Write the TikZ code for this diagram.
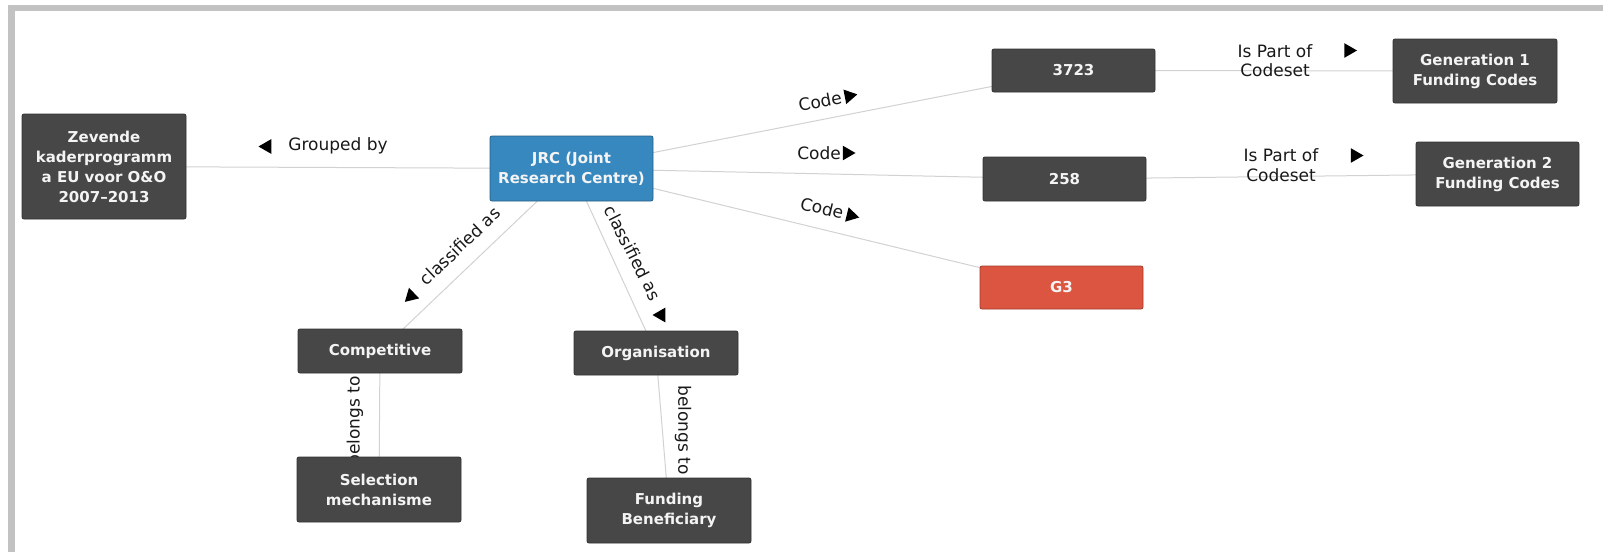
\documentclass[tikz,border=0pt]{standalone}
\usepackage{fontspec}
\setmainfont{DejaVu Sans}
\usetikzlibrary{shapes.geometric}
\pgfdeclarelayer{back}
\pgfdeclarelayer{bg}
\pgfsetlayers{back,bg,main}
\definecolor{nodegray}{HTML}{474747}
\definecolor{nodeborder}{HTML}{333333}
\definecolor{jrcblue}{HTML}{3788BF}
\definecolor{jrcborder}{HTML}{2A5F86}
\definecolor{g3red}{HTML}{DB5540}
\definecolor{g3border}{HTML}{A33C2C}
\definecolor{edgegray}{HTML}{D2D2D2}
\definecolor{framegray}{HTML}{C2C2C2}
\definecolor{boxtext}{HTML}{F4F4F4}
\begin{document}
\begin{tikzpicture}[x=1pt,y=-1pt,
  box/.style={draw=nodeborder, fill=nodegray, rounded corners=2pt, text=boxtext,
    font=\bfseries\fontsize{15}{20}\selectfont, align=center, inner sep=0pt, line width=0.8pt},
  wire/.style={draw=edgegray, line width=1pt},
  lbl/.style={font=\fontsize{17}{19.5}\selectfont, text=black!90, inner sep=0pt, align=center},
  tri/.style={regular polygon, regular polygon sides=3, fill=black, draw=none, inner sep=0pt, minimum size=17pt}
]
\useasboundingbox (0,0) rectangle (1603,552);
\begin{pgfonlayer}{back}
\fill[white] (0,0) rectangle (1603,552);
% frame
\fill[framegray] (8,5) rectangle (1603,11);
\fill[framegray] (8,5) rectangle (14.5,552);
\end{pgfonlayer}

% nodes
\node[box, minimum width=164pt, minimum height=105pt] (zev) at (104,166.5) {Zevende\\kaderprogramm\\a EU voor O\&O\\2007–2013};
\node[box, fill=jrcblue, draw=jrcborder, minimum width=163pt, minimum height=65pt] (jrc) at (571.5,168.5) {JRC (Joint\\Research Centre)};
\node[box, minimum width=163pt, minimum height=43pt] (c3723) at (1073.5,70.5) {3723};
\node[box, minimum width=163pt, minimum height=44pt] (c258) at (1064.5,179) {258};
\node[box, fill=g3red, draw=g3border, minimum width=163pt, minimum height=43pt] (g3) at (1061.5,287.5) {G3};
\node[box, minimum width=164pt, minimum height=64pt] (gen1) at (1475,71) {Generation 1\\Funding Codes};
\node[box, minimum width=163pt, minimum height=64pt] (gen2) at (1497.5,174) {Generation 2\\Funding Codes};
\node[box, minimum width=164pt, minimum height=44pt] (comp) at (380,351) {Competitive};
\node[box, minimum width=164pt, minimum height=65pt] (sel) at (379,489.5) {Selection\\mechanisme};
\node[box, minimum width=164pt, minimum height=44pt] (org) at (656,353) {Organisation};
\node[box, minimum width=164pt, minimum height=65pt] (fund) at (669,510.5) {Funding\\Beneficiary};

\begin{pgfonlayer}{bg}
% connectors
\draw[wire] (zev.center) -- (jrc.center);
\draw[wire] (jrc.center) -- (c3723.center);
\draw[wire] (jrc.center) -- (c258.center);
\draw[wire] (jrc.center) -- (g3.center);
\draw[wire] (jrc.center) -- (comp.center);
\draw[wire] (jrc.center) -- (org.center);
\draw[wire] (c3723.center) -- (gen1.center);
\draw[wire] (c258.center) -- (gen2.center);
\draw[wire] (comp.center) -- (sel.center);
\draw[wire] (org.center) -- (fund.center);

% labels
\node[lbl] (lgroup) at (338,146) {Grouped by};
\node[tri, shape border rotate=90] (agroup) at (267,146.5) {};

\node[lbl, rotate=11] (lcode1) at (820,101) {Code};
\node[tri, shape border rotate=-79, minimum size=17pt] (acode1) at (849,96) {};
\node[lbl] (lcode2) at (819,153) {Code};
\node[tri, shape border rotate=-90, minimum size=17pt] (acode2) at (847,153) {};
\node[lbl, rotate=-13.6] (lcode3) at (822,208) {Code};
\node[tri, shape border rotate=-103.6, minimum size=17pt] (acode3) at (851,215.5) {};

\node[lbl] (lpart1) at (1275,60.5) {Is Part of\\Codeset};
\node[tri, shape border rotate=-90] (apart1) at (1348.5,50.5) {};
\node[lbl] (lpart2) at (1281,165) {Is Part of\\Codeset};
\node[tri, shape border rotate=-90] (apart2) at (1355,155.5) {};

\node[lbl, rotate=43.6] (lclass1) at (460,246) {classified as};
\node[tri, shape border rotate=133.6] (aclass1) at (411,296) {};
\node[lbl, rotate=-63] (lclass2) at (633,253) {classified as};
\node[tri, shape border rotate=90] (aclass2) at (661,315) {};

\node[lbl, rotate=90] (lbel1) at (355,421) {belongs to};
\node[lbl, rotate=-90] (lbel2) at (683,430) {belongs to};
\end{pgfonlayer}
\end{tikzpicture}
\end{document}
